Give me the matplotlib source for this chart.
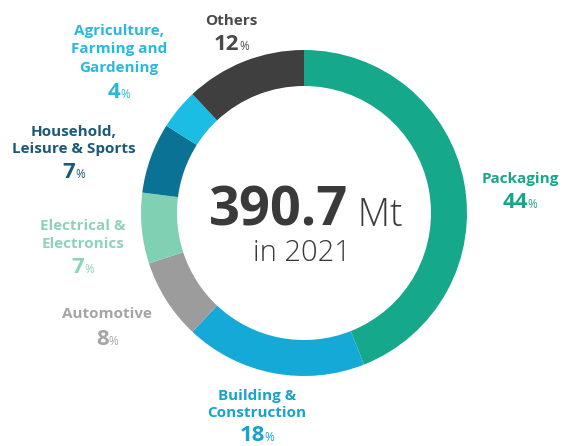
import matplotlib
matplotlib.use("Agg")
import matplotlib.pyplot as plt

categories = ["Packaging", "Building &\nConstruction", "Automotive", "Electrical &\nElectronics",
              "Household,\nLeisure & Sports", "Agriculture,\nFarming and\nGardening", "Others"]
shares = [44, 18, 8, 7, 7, 4, 12]
colors = ["#16a88a", "#14a9d6", "#9c9c9c", "#80d0b4", "#0a7294", "#1cbde4", "#3f3f3f"]
label_colors = ["#18a68a", "#17a2cf", "#a5a5a5", "#8dd3bb", "#1a5a79", "#2ab8dc", "#4a4a4a"]
total_text = "390.7"
unit_text = "Mt"
year_text = "in 2021"

W, H = 563, 446
fig = plt.figure(figsize=(W / 100, H / 100), dpi=100)
ax = fig.add_axes([0, 0, 1, 1])

cx, cy, R = 304, H - 213, 163
ax.pie(shares, colors=colors, startangle=90, counterclock=False, center=(cx, cy), radius=R,
       wedgeprops=dict(width=36, edgecolor="none"), frame=True)
ax.set_xlim(0, W)
ax.set_ylim(0, H)
ax.set_aspect("equal")
ax.axis("off")

FONT = "Open Sans"
# label layout: (center x, first baseline y, line step, percentage baseline y) in pixels from top
anchors = [
    (520, 183, 17, 208),
    (257, 400, 17, 441),
    (107, 318, 17, 345),
    (83, 230, 18, 273),
    (74, 136, 17, 178),
    (119, 35, 18.5, 98),
    (231, 25, 18, 50),
]

fig.canvas.draw()
r = fig.canvas.get_renderer()


def px_width(t):
    return t.get_window_extent(renderer=r).width


def two_part(x, y, big, small, color, bs, ss, bw="bold", sw="normal", gap=0.0):
    t1 = ax.text(x, y, big, fontsize=bs, fontweight=bw, color=color, family=FONT, ha="left", va="baseline")
    t2 = ax.text(x, y, small, fontsize=ss, fontweight=sw, color=color, family=FONT, ha="left", va="baseline")
    w1, w2 = px_width(t1), px_width(t2)
    x0 = x - (w1 + gap + w2) / 2
    t1.set_x(x0)
    t2.set_x(x0 + w1 + gap)
    return t1, t2


for cat, val, lc, (x, yb, step, yp) in zip(categories, shares, label_colors, anchors):
    for i, line in enumerate(cat.split("\n")):
        ax.text(x, H - (yb + i * step), line, fontsize=11, fontweight="bold", color=lc, family=FONT,
                ha="center", va="baseline")
    two_part(x, H - yp, str(val), "%", lc, 16, 8.5, gap=0)

two_part(cx + 2, H - 226, total_text, " " + unit_text, "#3a3a3a", 39, 27, bw="bold", sw="light")
ax.text(cx - 2, H - 261, year_text, fontsize=21, fontweight="light", color="#3a3a3a", family=FONT,
        ha="center", va="baseline")

fig.savefig("out.png", dpi=100)
